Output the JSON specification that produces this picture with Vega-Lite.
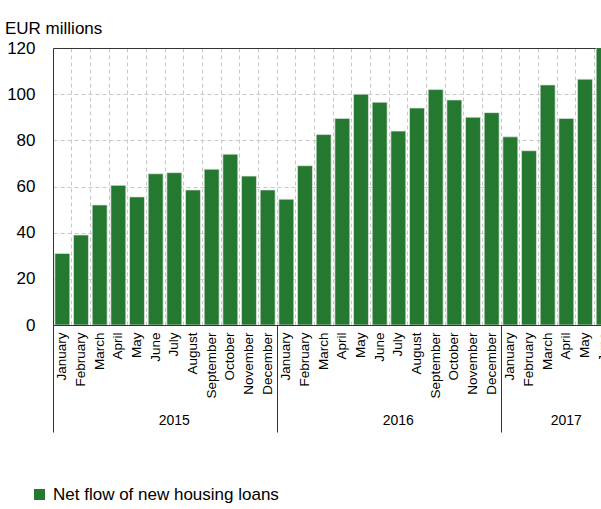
{
  "$schema": "https://vega.github.io/schema/vega-lite/v6.json",
  "autosize": {"type": "none"},
  "width": 548,
  "height": 277,
  "padding": {"left": 53, "top": 48, "right": 0, "bottom": 184},
  "background": "white",
  "config": {"font": "Liberation Sans", "view": {"stroke": null}},
  "data": {"values": [
    {"date": "2015-01-15", "value": 31, "series": "Net flow of new housing loans"},
    {"date": "2015-02-15", "value": 39, "series": "Net flow of new housing loans"},
    {"date": "2015-03-15", "value": 52, "series": "Net flow of new housing loans"},
    {"date": "2015-04-15", "value": 60.5, "series": "Net flow of new housing loans"},
    {"date": "2015-05-15", "value": 55.5, "series": "Net flow of new housing loans"},
    {"date": "2015-06-15", "value": 65.5, "series": "Net flow of new housing loans"},
    {"date": "2015-07-15", "value": 66, "series": "Net flow of new housing loans"},
    {"date": "2015-08-15", "value": 58.5, "series": "Net flow of new housing loans"},
    {"date": "2015-09-15", "value": 67.5, "series": "Net flow of new housing loans"},
    {"date": "2015-10-15", "value": 74, "series": "Net flow of new housing loans"},
    {"date": "2015-11-15", "value": 64.5, "series": "Net flow of new housing loans"},
    {"date": "2015-12-15", "value": 58.5, "series": "Net flow of new housing loans"},
    {"date": "2016-01-15", "value": 54.5, "series": "Net flow of new housing loans"},
    {"date": "2016-02-15", "value": 69, "series": "Net flow of new housing loans"},
    {"date": "2016-03-15", "value": 82.5, "series": "Net flow of new housing loans"},
    {"date": "2016-04-15", "value": 89.5, "series": "Net flow of new housing loans"},
    {"date": "2016-05-15", "value": 100, "series": "Net flow of new housing loans"},
    {"date": "2016-06-15", "value": 96.5, "series": "Net flow of new housing loans"},
    {"date": "2016-07-15", "value": 84, "series": "Net flow of new housing loans"},
    {"date": "2016-08-15", "value": 94, "series": "Net flow of new housing loans"},
    {"date": "2016-09-15", "value": 102, "series": "Net flow of new housing loans"},
    {"date": "2016-10-15", "value": 97.5, "series": "Net flow of new housing loans"},
    {"date": "2016-11-15", "value": 90, "series": "Net flow of new housing loans"},
    {"date": "2016-12-15", "value": 92, "series": "Net flow of new housing loans"},
    {"date": "2017-01-15", "value": 81.5, "series": "Net flow of new housing loans"},
    {"date": "2017-02-15", "value": 75.5, "series": "Net flow of new housing loans"},
    {"date": "2017-03-15", "value": 104, "series": "Net flow of new housing loans"},
    {"date": "2017-04-15", "value": 89.5, "series": "Net flow of new housing loans"},
    {"date": "2017-05-15", "value": 106.5, "series": "Net flow of new housing loans"},
    {"date": "2017-06-15", "value": 125, "series": "Net flow of new housing loans"}
  ]},
  "layer": [
    {
      "mark": {"type": "tick", "opacity": 0},
      "encoding": {
        "x": {
          "field": "date", "timeUnit": "yearmonth", "type": "ordinal",
          "scale": {"paddingInner": 0, "paddingOuter": 0, "rangeMax": 560},
          "axis": {
            "orient": "bottom", "title": null, "domain": false,
            "bandPosition": 0,
            "grid": true, "gridColor": "#c8c8c8", "gridDash": [4, 3], "gridWidth": 1,
            "ticks": true, "tickSize": 107, "tickColor": "#333", "tickWidth": 1,
            "tickOpacity": {"condition": {"test": "month(datum.value) == 0", "value": 1}, "value": 0},
            "labelExpr": "month(datum.value) == 6 || (year(datum.value) == 2017 && month(datum.value) == 3) ? timeFormat(datum.value, '%Y') : ''",
            "labelAngle": 0, "labelAlign": "center", "labelBaseline": "top",
            "labelPadding": -19, "labelFontSize": 14, "labelColor": "#000",
            "labelOverlap": false, "labelFlush": false, "labelBound": false
          }
        }
      }
    },
    {
      "mark": {"type": "bar", "clip": true, "stroke": "#e4e4e4", "strokeWidth": 0.7},
      "encoding": {
        "x": {
          "field": "date", "timeUnit": "yearmonth", "type": "ordinal",
          "scale": {"paddingInner": 0.2, "paddingOuter": 0.1, "rangeMax": 560},
          "axis": {
            "orient": "bottom", "title": null, "format": "%B",
            "labelAngle": -90, "labelFontSize": 13.5, "labelPadding": 7, "labelColor": "#000",
            "ticks": false, "grid": false, "domainColor": "#333", "domainWidth": 1,
            "labelOverlap": false, "labelFlush": false, "labelBound": false
          }
        },
        "y": {
          "field": "value", "type": "quantitative",
          "scale": {"domain": [0, 120], "nice": false},
          "axis": {
            "values": [0, 20, 40, 60, 80, 100, 120],
            "ticks": false, "labelFontSize": 17, "labelPadding": 18, "labelColor": "#000",
            "domainColor": "#333", "domainWidth": 1,
            "gridColor": {"condition": {"test": "datum.value == 120", "value": "#333"}, "value": "#c8c8c8"},
            "gridDash": {"condition": {"test": "datum.value == 120", "value": []}, "value": [4, 3]},
            "title": "EUR millions", "titleAngle": 0, "titleAlign": "left", "titleBaseline": "alphabetic",
            "titleX": -48.5, "titleY": -14.5, "titleFontSize": 17, "titleFontWeight": "normal", "titleColor": "#000"
          }
        },
        "color": {
          "field": "series", "type": "nominal",
          "scale": {"range": ["#24782f"]},
          "legend": {
            "title": null, "orient": "none", "legendX": -22, "legendY": 438,
            "symbolType": "square", "symbolSize": 121, "symbolStrokeWidth": 0,
            "labelFontSize": 17, "labelColor": "#000", "labelOffset": 5, "labelLimit": 500
          }
        }
      }
    }
  ],
  "resolve": {"scale": {"x": "independent"}, "axis": {"x": "independent"}}
}
